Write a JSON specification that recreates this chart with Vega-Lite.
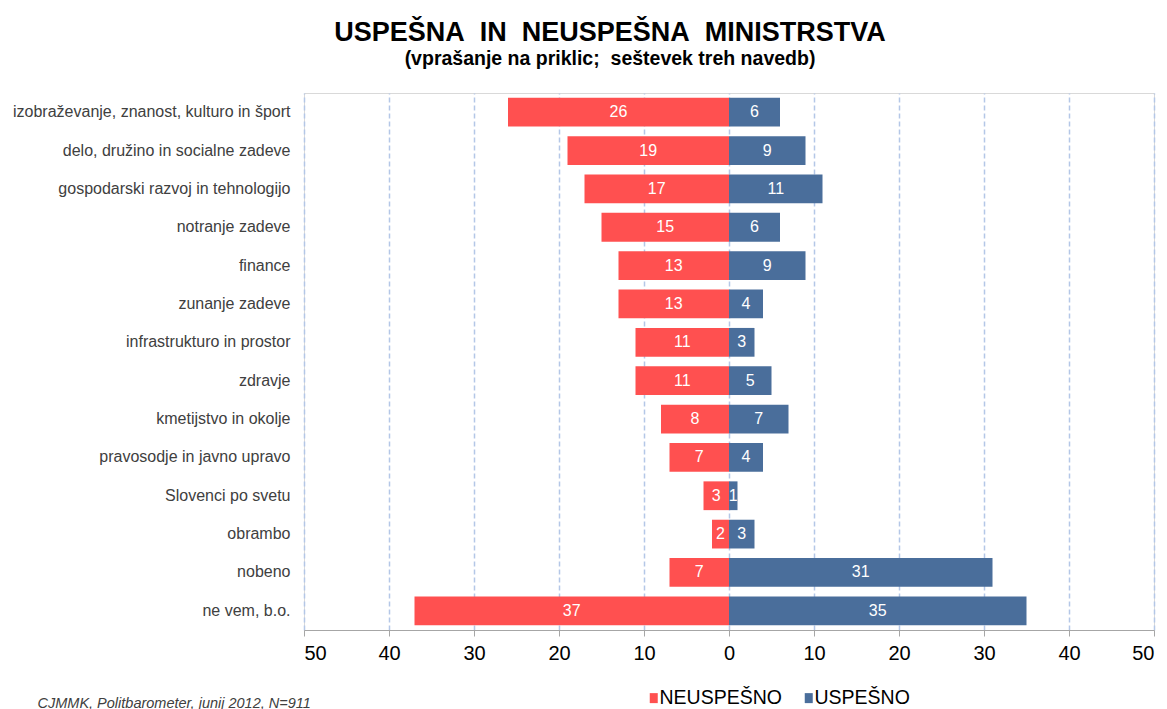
{
  "$schema": "https://vega.github.io/schema/vega-lite/v6.json",
  "width": 850,
  "height": 537,
  "autosize": {"type": "none"},
  "padding": {"left": 304, "top": 93, "right": 13, "bottom": 79},
  "background": "white",
  "config": {
    "font": "Liberation Sans",
    "view": {"stroke": "#d9d9d9", "strokeWidth": 1}
  },
  "title": {
    "text": "USPEŠNA\u00a0\u00a0IN\u00a0\u00a0NEUSPEŠNA\u00a0\u00a0MINISTRSTVA",
    "subtitle": "(vprašanje na priklic;\u00a0\u00a0seštevek treh navedb)",
    "anchor": "middle",
    "frame": "group",
    "dx": -119,
    "offset": 24,
    "font": "Liberation Sans",
    "fontSize": 27,
    "fontWeight": "bold",
    "color": "#000000",
    "subtitleFont": "Liberation Sans",
    "subtitleFontSize": 19.5,
    "subtitleFontWeight": "bold",
    "subtitleColor": "#000000",
    "subtitlePadding": 3
  },
  "data": {
    "values": [
      {"ministrstvo": "izobraževanje, znanost, kulturo in šport", "ocena": "NEUSPEŠNO", "vrednost": -26},
      {"ministrstvo": "izobraževanje, znanost, kulturo in šport", "ocena": "USPEŠNO", "vrednost": 6},
      {"ministrstvo": "delo, družino in socialne zadeve", "ocena": "NEUSPEŠNO", "vrednost": -19},
      {"ministrstvo": "delo, družino in socialne zadeve", "ocena": "USPEŠNO", "vrednost": 9},
      {"ministrstvo": "gospodarski razvoj in tehnologijo", "ocena": "NEUSPEŠNO", "vrednost": -17},
      {"ministrstvo": "gospodarski razvoj in tehnologijo", "ocena": "USPEŠNO", "vrednost": 11},
      {"ministrstvo": "notranje zadeve", "ocena": "NEUSPEŠNO", "vrednost": -15},
      {"ministrstvo": "notranje zadeve", "ocena": "USPEŠNO", "vrednost": 6},
      {"ministrstvo": "finance", "ocena": "NEUSPEŠNO", "vrednost": -13},
      {"ministrstvo": "finance", "ocena": "USPEŠNO", "vrednost": 9},
      {"ministrstvo": "zunanje zadeve", "ocena": "NEUSPEŠNO", "vrednost": -13},
      {"ministrstvo": "zunanje zadeve", "ocena": "USPEŠNO", "vrednost": 4},
      {"ministrstvo": "infrastrukturo in prostor", "ocena": "NEUSPEŠNO", "vrednost": -11},
      {"ministrstvo": "infrastrukturo in prostor", "ocena": "USPEŠNO", "vrednost": 3},
      {"ministrstvo": "zdravje", "ocena": "NEUSPEŠNO", "vrednost": -11},
      {"ministrstvo": "zdravje", "ocena": "USPEŠNO", "vrednost": 5},
      {"ministrstvo": "kmetijstvo in okolje", "ocena": "NEUSPEŠNO", "vrednost": -8},
      {"ministrstvo": "kmetijstvo in okolje", "ocena": "USPEŠNO", "vrednost": 7},
      {"ministrstvo": "pravosodje in javno upravo", "ocena": "NEUSPEŠNO", "vrednost": -7},
      {"ministrstvo": "pravosodje in javno upravo", "ocena": "USPEŠNO", "vrednost": 4},
      {"ministrstvo": "Slovenci po svetu", "ocena": "NEUSPEŠNO", "vrednost": -3},
      {"ministrstvo": "Slovenci po svetu", "ocena": "USPEŠNO", "vrednost": 1},
      {"ministrstvo": "obrambo", "ocena": "NEUSPEŠNO", "vrednost": -2},
      {"ministrstvo": "obrambo", "ocena": "USPEŠNO", "vrednost": 3},
      {"ministrstvo": "nobeno", "ocena": "NEUSPEŠNO", "vrednost": -7},
      {"ministrstvo": "nobeno", "ocena": "USPEŠNO", "vrednost": 31},
      {"ministrstvo": "ne vem, b.o.", "ocena": "NEUSPEŠNO", "vrednost": -37},
      {"ministrstvo": "ne vem, b.o.", "ocena": "USPEŠNO", "vrednost": 35}
    ]
  },
  "encoding": {
    "y": {
      "field": "ministrstvo",
      "type": "nominal",
      "sort": null,
      "scale": {"paddingInner": 0.25, "paddingOuter": 0.125},
      "axis": {
        "title": null,
        "ticks": false,
        "domain": false,
        "labelFontSize": 16,
        "labelColor": "#404040",
        "labelPadding": 14,
        "labelLimit": 400
      }
    }
  },
  "layer": [
    {
      "mark": {"type": "bar"},
      "encoding": {
        "x": {
          "field": "vrednost",
          "type": "quantitative",
          "scale": {"domain": [-50, 50], "nice": false},
          "axis": {
            "values": [-50, -40, -30, -20, -10, 0, 10, 20, 30, 40, 50],
            "labelExpr": "abs(datum.value)",
            "labelFontSize": 20,
            "labelColor": "#000000",
            "labelPadding": 7,
            "tickSize": 6,
            "tickColor": "#a6a6a6",
            "domainColor": "#a6a6a6",
            "grid": true,
            "gridColor": "#b4c7e7",
            "gridDash": [5, 3],
            "gridWidth": 1.5,
            "title": "CJMMK, Politbarometer, junij 2012, N=911",
            "titleFontSize": 14.5,
            "titleFontStyle": "italic",
            "titleFontWeight": "normal",
            "titleColor": "#404040",
            "titleAnchor": "start",
            "titleAlign": "left",
            "titleBaseline": "alphabetic",
            "titleX": -267,
            "titleY": 77
          }
        },
        "color": {
          "field": "ocena",
          "type": "nominal",
          "scale": {"domain": ["NEUSPEŠNO", "USPEŠNO"], "range": ["#ff5050", "#4a6e9b"]},
          "legend": {
            "title": null,
            "orient": "none",
            "direction": "horizontal",
            "legendX": 340,
            "legendY": 595,
            "symbolType": "M-0.8,-1H0.8V1H-0.8Z",
            "symbolSize": 100,
            "symbolStrokeWidth": 0,
            "labelFontSize": 19.5,
            "labelColor": "#000000",
            "labelOffset": -4,
            "columnPadding": 17
          }
        }
      }
    },
    {
      "mark": {"type": "rule", "color": "#808080", "strokeWidth": 1},
      "encoding": {"x": {"datum": 0}}
    },
    {
      "transform": [
        {"calculate": "datum.vrednost / 2", "as": "sredina"},
        {"calculate": "abs(datum.vrednost)", "as": "oznaka"}
      ],
      "mark": {"type": "text", "color": "white", "fontSize": 16, "baseline": "middle", "align": "center"},
      "encoding": {
        "x": {"field": "sredina", "type": "quantitative"},
        "text": {"field": "oznaka", "type": "quantitative"}
      }
    }
  ]
}
